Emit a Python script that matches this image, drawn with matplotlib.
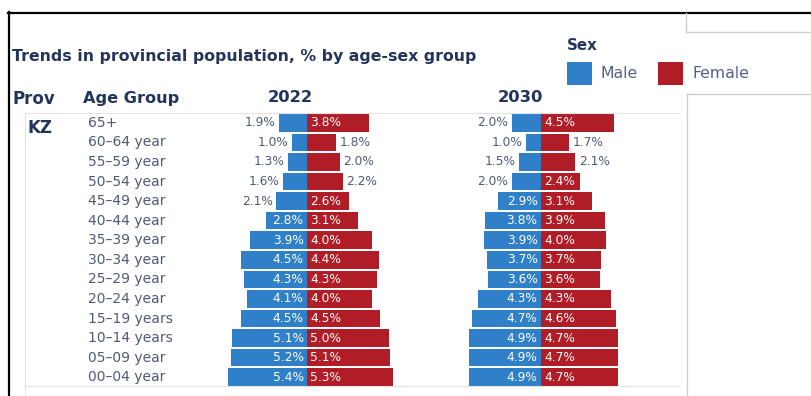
import matplotlib
matplotlib.use("Agg")
import matplotlib.pyplot as plt
from matplotlib.lines import Line2D
from matplotlib.patches import Rectangle
from matplotlib.transforms import blended_transform_factory

plt.rcParams["font.family"] = ["DejaVu Sans"]

# Age groups, top row first
AGE_GROUPS = [
    "65+", "60–64 year", "55–59 year", "50–54 year", "45–49 year",
    "40–44 year", "35–39 year", "30–34 year", "25–29 year", "20–24 year",
    "15–19 years", "10–14 years", "05–09 year", "00–04 year",
]
MALE_2022 = [1.9, 1.0, 1.3, 1.6, 2.1, 2.8, 3.9, 4.5, 4.3, 4.1, 4.5, 5.1, 5.2, 5.4]
FEMALE_2022 = [3.8, 1.8, 2.0, 2.2, 2.6, 3.1, 4.0, 4.4, 4.3, 4.0, 4.5, 5.0, 5.1, 5.3]
MALE_2030 = [2.0, 1.0, 1.5, 2.0, 2.9, 3.8, 3.9, 3.7, 3.6, 4.3, 4.7, 4.9, 4.9, 4.9]
FEMALE_2030 = [4.5, 1.7, 2.1, 2.4, 3.1, 3.9, 4.0, 3.7, 3.6, 4.3, 4.6, 4.7, 4.7, 4.7]
YEARS = ["2022", "2030"]
PROVINCE = "KZ"

C_MALE = "#2f80c9"
C_FEMALE = "#b01d27"
C_HEAD = "#23355c"
C_TEXT = "#4f5a74"
C_RULE = "#e2e2e2"

W, H = 811, 396
fig = plt.figure(figsize=(W / 100, H / 100), dpi=100)
fig.patch.set_facecolor("white")


def fx(px):
    return px / W


def fy(py):
    return 1 - py / H


def hline(x0, x1, y, color, lw=1.0):
    fig.add_artist(Line2D([fx(x0), fx(x1)], [fy(y), fy(y)],
                          transform=fig.transFigure, color=color, lw=lw))


def vline(x, y0, y1, color, lw=1.0):
    fig.add_artist(Line2D([fx(x), fx(x)], [fy(y0), fy(y1)],
                          transform=fig.transFigure, color=color, lw=lw))


# frame lines
hline(8, W, 12.5, "black", 1.6)
vline(9, 12, H, "black", 1.6)
hline(686, W, 32, "#cfcfcf", 1.0)
vline(686, 13, 32, "#cfcfcf", 1.0)
hline(687, W, 94, "#cfcfcf", 1.0)
vline(687, 94, H, "#cfcfcf", 1.0)
hline(25, 680, 113, C_RULE, 0.8)
vline(25, 113, H, C_RULE, 0.8)
hline(25, 680, 386, C_RULE, 0.8)

# titles and headers
fig.text(fx(12), fy(57), "Trends in provincial population, % by age-sex group",
         fontsize=11.3, fontweight="bold", color=C_HEAD, va="center", ha="left")
fig.text(fx(567), fy(46), "Sex", fontsize=10.8, fontweight="bold",
         color=C_HEAD, va="center", ha="left")
fig.text(fx(12), fy(99), "Prov", fontsize=12, fontweight="bold",
         color=C_HEAD, va="center", ha="left")
fig.text(fx(83), fy(99), "Age Group", fontsize=11.6, fontweight="bold",
         color=C_HEAD, va="center", ha="left")

# legend swatches
for x0, c, lab in [(567, C_MALE, "Male"), (658, C_FEMALE, "Female")]:
    fig.add_artist(Rectangle((fx(x0), fy(85)), fx(25), 23 / H,
                             transform=fig.transFigure, facecolor=c,
                             edgecolor="none"))
    fig.text(fx(x0 + 34), fy(74), lab, fontsize=11.3, color="#52608a",
             va="center", ha="left")

# bar panels
ROW_TOP, ROW_BOT = 113, 387
MALE_PX, FEMALE_PX = 14.7, 16.3
XMAX = 5.6
n = len(AGE_GROUPS)
rows = list(range(n))

panels = [
    (307, 290, MALE_2022, FEMALE_2022, YEARS[0]),
    (541, 520, MALE_2030, FEMALE_2030, YEARS[1]),
]

first_ax = None
for center, head_x, male, female, year in panels:
    mw = XMAX * MALE_PX
    fw = XMAX * FEMALE_PX
    axm = fig.add_axes([fx(center - mw), fy(ROW_BOT), fx(mw),
                        (ROW_BOT - ROW_TOP) / H])
    axf = fig.add_axes([fx(center), fy(ROW_BOT), fx(fw),
                        (ROW_BOT - ROW_TOP) / H])
    axm.barh(rows, male, height=0.9, color=C_MALE, linewidth=0)
    axf.barh(rows, female, height=0.9, color=C_FEMALE, linewidth=0)
    axm.set_xlim(XMAX, 0)
    axf.set_xlim(0, XMAX)
    for ax in (axm, axf):
        ax.set_ylim(n - 0.5, -0.5)
        ax.axis("off")
        ax.patch.set_alpha(0)

    for i, v in enumerate(male):
        inside = v >= 2.5
        axm.annotate(f"{v:.1f}%", (0 if inside else v, i),
                     xytext=(-2.5, 0), textcoords="offset points",
                     ha="right", va="center", fontsize=8.8,
                     color="white" if inside else C_TEXT)
    for i, v in enumerate(female):
        inside = v >= 2.3
        axf.annotate(f"{v:.1f}%", (0 if inside else v, i),
                     xytext=(2.5, 0), textcoords="offset points",
                     ha="left", va="center", fontsize=8.8,
                     color="white" if inside else C_TEXT)

    fig.text(fx(head_x), fy(98), year, fontsize=11.8, fontweight="bold",
             color=C_HEAD, va="center", ha="center")
    if first_ax is None:
        first_ax = axm

# age group labels and province
trans = blended_transform_factory(fig.transFigure, first_ax.transData)
for i, lab in enumerate(AGE_GROUPS):
    first_ax.text(fx(88), i, lab, transform=trans, ha="left", va="center",
                  fontsize=10, color=C_TEXT)
fig.text(fx(28), fy(128), PROVINCE, fontsize=12, fontweight="bold",
         color=C_HEAD, va="center", ha="left")

fig.savefig("out.png", dpi=100, facecolor="white")
